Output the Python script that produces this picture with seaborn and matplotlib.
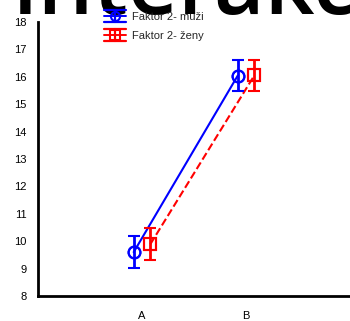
import numpy as np
import pandas as pd
import matplotlib
matplotlib.use("Agg")
import matplotlib.pyplot as plt
from matplotlib.lines import Line2D
import seaborn as sns

categories = ["A", "B"]
series_names = ["Faktor 2- muži", "Faktor 2- ženy"]
muzi_mean = [9.60, 16.04]
muzi_err = [0.58, 0.57]
zeny_mean = [9.89, 16.05]
zeny_err = [0.58, 0.57]
y_ticks = list(range(8, 19))
title_text = "Interakce"

sns.set_style("white")
plt.rcParams['font.family'] = ['Liberation Sans', 'DejaVu Sans']

df = pd.DataFrame({
    "group": categories * 2,
    "sex": [series_names[0]] * 2 + [series_names[1]] * 2,
    "mean": muzi_mean + zeny_mean,
})

fig = plt.figure(figsize=(3.5, 3.21), dpi=100)
ax = fig.add_axes([38 / 350, 1 - 296 / 321, 1 - 38 / 350, (296 - 22) / 321])

colors = ["#0000ff", "#ff0000"]
markers = ["o", "s"]
dodge = 0.16

sns.pointplot(data=df, x="group", y="mean", hue="sex", order=categories,
              hue_order=series_names, dodge=dodge, markers=markers,
              linestyles=["-", "--"], palette=colors, errorbar=None,
              ax=ax, legend=False, markersize=8.5, linewidth=1.5)

for ln in ax.lines:
    ln.set_markerfacecolor("none")
    ln.set_markeredgewidth(1.5)

for i, (m, e, c, mk) in enumerate(zip([muzi_mean, zeny_mean], [muzi_err, zeny_err],
                                       colors, markers)):
    off = -dodge / 2 + i * dodge
    x = np.arange(len(categories)) + off
    ax.errorbar(x, m, yerr=e, fmt=mk, color=c, mfc="none", mec=c, mew=1.5,
                ms=8.5, elinewidth=2, capsize=4.5, capthick=2, lw=0)

ax.set_xlim(-1, 2)
ax.set_ylim(8, 18)
ax.set_yticks(y_ticks)
ax.set_xlabel("")
ax.set_ylabel("")
for s in ["top", "right"]:
    ax.spines[s].set_visible(False)
for s in ["left", "bottom"]:
    ax.spines[s].set_linewidth(2)
    ax.spines[s].set_color("black")
ax.tick_params(axis="both", direction="in", length=4, width=2, colors="black",
               labelsize=8)
ax.tick_params(axis="y", pad=8)
ax.tick_params(axis="x", pad=11)


class ErrSymbol:
    def __init__(self, color, marker):
        self.color = color
        self.marker = marker


class ErrSymbolHandler:
    def legend_artist(self, legend, orig_handle, fontsize, handlebox):
        x0, y0 = -handlebox.xdescent, -handlebox.ydescent
        w, h = handlebox.width, handlebox.height
        cx, cy = x0 + w / 2, y0 + h / 2
        hh = 4.3
        c = orig_handle.color
        tr = handlebox.get_transform()
        arts = [
            Line2D([x0, x0 + w], [cy + hh, cy + hh], color=c, lw=1.6, transform=tr),
            Line2D([x0, x0 + w], [cy - hh, cy - hh], color=c, lw=1.6, transform=tr),
            Line2D([x0, x0 + w], [cy, cy], color=c, lw=1.4, transform=tr),
            Line2D([cx, cx], [cy - hh, cy + hh], color=c, lw=1.6, transform=tr),
            Line2D([cx], [cy], marker=orig_handle.marker, ms=6.5, mfc="none", mec=c,
                   mew=1.5, ls="none", transform=tr),
        ]
        for a in arts:
            handlebox.add_artist(a)
        return arts[0]


handles = [ErrSymbol(c, mk) for c, mk in zip(colors, markers)]
leg = fig.legend(handles=handles, labels=series_names, loc="upper left",
                 bbox_to_anchor=(104 / 350, 1 - 12 / 321), frameon=False, fontsize=8,
                 handlelength=2.0, handletextpad=0.55, labelspacing=0.8,
                 borderaxespad=0, borderpad=0,
                 handler_map={ErrSymbol: ErrSymbolHandler()})
leg.set_zorder(10)

fig.text(13 / 350 - 0.004, 1 - 14 / 321, title_text, ha="left", va="baseline",
         fontsize=63, family="Open Sans", fontweight="semibold", color="black", zorder=0)

fig.savefig("out.png", dpi=100)
